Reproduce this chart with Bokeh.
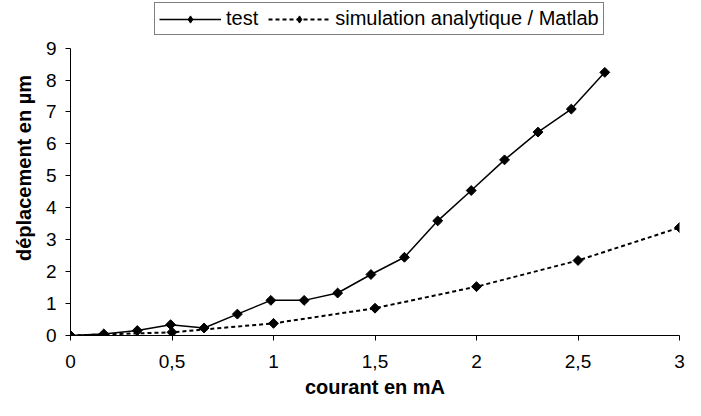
from bokeh.plotting import figure
from bokeh.models import Range1d, FixedTicker, Legend, LegendItem
from bokeh.embed import file_html
from bokeh.resources import INLINE

# ---- data ----
current_test = [0, 0.164, 0.329, 0.493, 0.658, 0.822, 0.987, 1.151, 1.316,
                1.48, 1.645, 1.809, 1.974, 2.138, 2.303, 2.467, 2.632]
disp_test = [0, 0.05, 0.155, 0.34, 0.235, 0.67, 1.10, 1.10, 1.33,
             1.91, 2.45, 3.59, 4.54, 5.50, 6.37, 7.09, 8.24]
current_sim = [0, 0.5, 1, 1.5, 2, 2.5, 3]
disp_sim = [0, 0.10, 0.38, 0.855, 1.53, 2.35, 3.38]

x_ticks = [0, 0.5, 1, 1.5, 2, 2.5, 3]
x_tick_labels = ["0", "0,5", "1", "1,5", "2", "2,5", "3"]
y_ticks = [0, 1, 2, 3, 4, 5, 6, 7, 8, 9]
y_max = 9

series_names = ["test", "simulation analytique / Matlab"]
x_title = "courant en mA"
y_title = "déplacement en µm"

FONT = "Liberation Sans"

# layout (pixels)
W, H = 685, 400
B_LEFT, B_RIGHT, B_BOTTOM = 70, 6, 65
AXIS_TOP = 47.6              # screen y of the top of the value axis
frame_h = H - B_BOTTOM       # frame starts at the top of the canvas
y_end = y_max * frame_h / (frame_h - AXIS_TOP)

p = figure(width=W, height=H, output_backend="svg", toolbar_location=None,
           x_range=Range1d(0, 3), y_range=Range1d(0, y_end),
           min_border_left=B_LEFT, min_border_right=B_RIGHT, min_border_top=0,
           min_border_bottom=B_BOTTOM)
p.outline_line_color = None
p.xgrid.grid_line_color = None
p.ygrid.grid_line_color = None
p.background_fill_color = "white"
p.border_fill_color = "white"

# lines and markers
r_test_line = p.line(current_test, disp_test, line_color="black", line_width=1.5)
r_test_pts = p.scatter(current_test, disp_test, marker="square", angle=0.785,
                       size=7, fill_color="black", line_color="black")
r_sim_line = p.line(current_sim, disp_sim, line_color="black", line_width=2,
                    line_dash="4 3")
r_sim_pts = p.scatter(current_sim, disp_sim, marker="square", angle=0.785,
                      size=7, fill_color="black", line_color="black")
# hidden diamond copies, used only for the legend keys
r_test_key = p.scatter(current_test, disp_test, marker="diamond", size=9,
                       fill_color="black", line_color="black", visible=False)
r_sim_key = p.scatter(current_sim, disp_sim, marker="diamond", size=9,
                      fill_color="black", line_color="black", visible=False)

# axes
for ax in (p.xaxis[0], p.yaxis[0]):
    ax.axis_line_color = "black"
    ax.axis_line_width = 1
    ax.major_tick_line_color = "black"
    ax.major_tick_in = 0
    ax.major_tick_out = 5
    ax.minor_tick_line_color = None
    ax.major_label_text_font = FONT
    ax.major_label_text_font_size = "19px"
    ax.major_label_text_color = "black"
    ax.axis_label_text_font = FONT
    ax.axis_label_text_font_size = "20px"
    ax.axis_label_text_font_style = "bold"
    ax.axis_label_text_color = "black"

p.xaxis.ticker = FixedTicker(ticks=x_ticks)
p.xaxis.major_label_overrides = dict(zip(x_ticks, x_tick_labels))
p.yaxis.ticker = FixedTicker(ticks=y_ticks)
p.yaxis.bounds = (0, y_max)
p.xaxis.axis_label = x_title
p.yaxis.axis_label = y_title
p.xaxis.major_label_standoff = 14
p.xaxis.axis_label_standoff = 5
p.yaxis.major_label_standoff = 9
p.yaxis.axis_label_standoff = 8

legend = Legend(items=[
    LegendItem(label=series_names[0], renderers=[r_test_line, r_test_key]),
    LegendItem(label=series_names[1], renderers=[r_sim_line, r_sim_key]),
], orientation="horizontal", location=(84, frame_h - 35))
legend.label_text_font = FONT
legend.label_text_font_size = "20px"
legend.label_text_color = "black"
legend.glyph_width = 62
legend.glyph_height = 18
legend.label_height = 18
legend.label_standoff = 5
legend.spacing = 10
legend.padding = 4
legend.margin = 0
legend.border_line_color = "black"
legend.border_line_width = 1
legend.background_fill_color = "white"
legend.background_fill_alpha = 1
p.add_layout(legend, "center")

open("out.html", "w").write(file_html(p, INLINE))
